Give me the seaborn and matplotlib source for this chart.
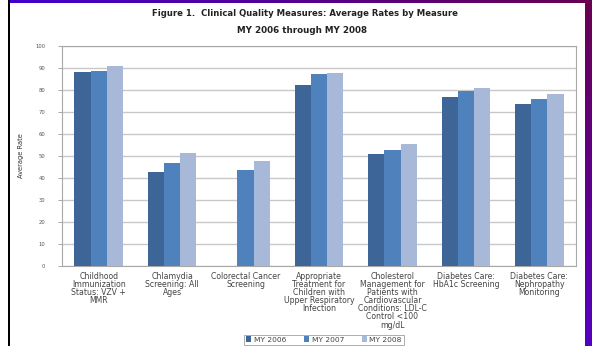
import numpy as np
import pandas as pd
import matplotlib.pyplot as plt
import seaborn as sns

# Data
measures = [
    "Childhood\nImmunization\nStatus: VZV +\nMMR",
    "Chlamydia\nScreening: All\nAges",
    "Colorectal Cancer\nScreening",
    "Appropriate\nTreatment for\nChildren with\nUpper Respiratory\nInfection",
    "Cholesterol\nManagement for\nPatients with\nCardiovascular\nConditions: LDL-C\nControl <100\nmg/dL",
    "Diabetes Care:\nHbA1c Screening",
    "Diabetes Care:\nNephropathy\nMonitoring",
]
years = ["MY 2006", "MY 2007", "MY 2008"]
rate_2006 = [88.0, 42.7, np.nan, 82.3, 50.8, 77.0, 73.6]
rate_2007 = [88.5, 47.0, 43.5, 87.3, 52.7, 79.7, 75.8]
rate_2008 = [90.7, 51.5, 47.9, 87.6, 55.3, 80.9, 78.3]
colors = ["#3E6598", "#4F81BD", "#A7B8D8"]

df = pd.DataFrame({
    "Measure": measures * 3,
    "Year": [y for y in years for _ in measures],
    "Rate": rate_2006 + rate_2007 + rate_2008,
})

sns.set_style("white")
plt.rcParams['font.family'] = ['DejaVu Sans']

fig = plt.figure(figsize=(5.92, 3.46), dpi=100)

# decorative frame: gradient strips on top and right, black line on left
H, W = 346, 592
bg = np.ones((H, W, 3))
blue = np.array([0x40, 0x00, 0xD0]) / 255
maroon = np.array([0x6A, 0x00, 0x50]) / 255
violet = np.array([0x55, 0x00, 0xC0]) / 255
t = np.linspace(0, 1, W)[:, None]
bg[0:3, 8:, :] = (blue * (1 - t) + maroon * t)[8:][None, :, :]
s = np.linspace(0, 1, H)[:, None]
bg[:, 585:, :] = (maroon * (1 - s) + violet * s)[:, None, :]
bg[:, 8:10, :] = 0
bax = fig.add_axes([0, 0, 1, 1], zorder=-10)
bax.imshow(bg, aspect="auto", interpolation="nearest")
bax.axis("off")

ax = fig.add_axes([62 / W, 80 / H, 514 / W, 220 / H])
sns.barplot(data=df, x="Measure", y="Rate", hue="Year", palette=colors,
            width=0.66, ax=ax, saturation=1, linewidth=0, zorder=3)

ax.set_ylim(0, 100)
ax.set_yticks(range(0, 101, 10))
ax.tick_params(axis="y", labelsize=3.8, labelcolor="#555555", length=3,
               color="#999999", width=0.6, pad=9, left=True)
ax.tick_params(axis="x", labelsize=5.6, labelcolor="#444444", length=0, pad=4)
for lbl in ax.get_xticklabels():
    lbl.set_linespacing(0.88)
    lbl.set_verticalalignment("top")
ax.yaxis.grid(True, color="#C8C8C8", linewidth=1.0, zorder=0)
ax.set_axisbelow(True)
for sp in ax.spines.values():
    sp.set_color("#A8A8A8")
    sp.set_linewidth(0.8)
ax.set_xlabel("")
ax.set_ylabel("Average Rate", fontsize=4.8, color="#333333", labelpad=8)

fig.text(305 / W, 1 - 13.5 / H, "Figure 1.  Clinical Quality Measures: Average Rates by Measure",
         ha="center", va="center", fontsize=6.1, fontweight="bold", color="#222222")
fig.text(302 / W, 1 - 30.5 / H, "MY 2006 through MY 2008",
         ha="center", va="center", fontsize=6.3, fontweight="bold", color="#222222")

handles, labels = ax.get_legend_handles_labels()
ax.legend_.remove()
leg = fig.legend(handles, labels, loc="center", bbox_to_anchor=(324 / W, 1 - 339.5 / H),
                 ncol=3, fontsize=5.4, frameon=True, fancybox=False,
                 handlelength=0.7, handleheight=0.7, handletextpad=0.3,
                 columnspacing=2.4, borderpad=0.25, borderaxespad=0)
leg.get_frame().set_edgecolor("#888888")
leg.get_frame().set_linewidth(0.6)
for txt in leg.get_texts():
    txt.set_color("#444444")

fig.savefig("out.png", dpi=100)
